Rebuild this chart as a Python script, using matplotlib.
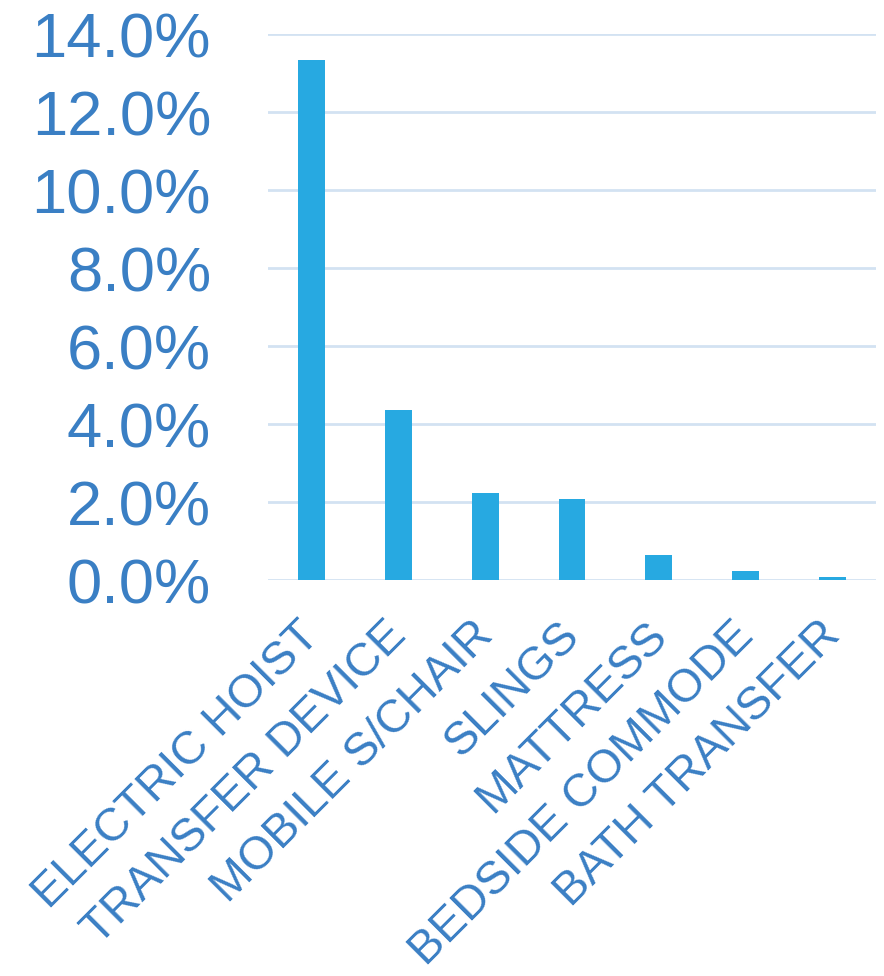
import matplotlib
matplotlib.use("Agg")
import matplotlib.pyplot as plt
import matplotlib.transforms as mtransforms
from matplotlib.ticker import FuncFormatter, MultipleLocator

categories = ["ELECTRIC HOIST", "TRANSFER DEVICE", "MOBILE S/CHAIR", "SLINGS",
              "MATTRESS", "BEDSIDE COMMODE", "BATH TRANSFER"]
shares = [13.33, 4.35, 2.23, 2.07, 0.63, 0.22, 0.07]

bar_color = "#27A9E1"
text_color = "#3A7FC4"
grid_color = "#D3E2F2"

plt.rcParams["font.family"] = ["Liberation Sans", "DejaVu Sans"]

fig = plt.figure(figsize=(8.84, 9.76), dpi=100)
ax = fig.add_axes([268 / 884, 1 - 580 / 976, 608 / 884, (580 - 34) / 976])

x = list(range(len(categories)))
ax.bar(x, shares, width=0.31, color=bar_color, zorder=3)

ax.set_xlim(-0.5, len(categories) - 0.5)
ax.set_ylim(0, 14)
ax.yaxis.set_major_locator(MultipleLocator(2))
ax.yaxis.set_major_formatter(FuncFormatter(lambda v, _: f"{v:.1f}%"))
ax.grid(axis="y", color=grid_color, linewidth=2, zorder=0)
ax.set_axisbelow(True)
for s in ax.spines.values():
    s.set_visible(False)

ax.tick_params(axis="y", length=0, pad=41, labelsize=45.5, labelcolor=text_color)
ax.tick_params(axis="x", length=0, pad=24, labelsize=33.5, labelcolor=text_color)
ax.set_xticks(x)
ax.set_xticklabels(categories, rotation=45, ha="right", va="top")
shift = mtransforms.ScaledTranslation(17 / 100, 0, fig.dpi_scale_trans)
for lbl in ax.get_xticklabels():
    lbl.set_transform(lbl.get_transform() + shift)

fig.savefig("out.png", dpi=100, facecolor="white")
